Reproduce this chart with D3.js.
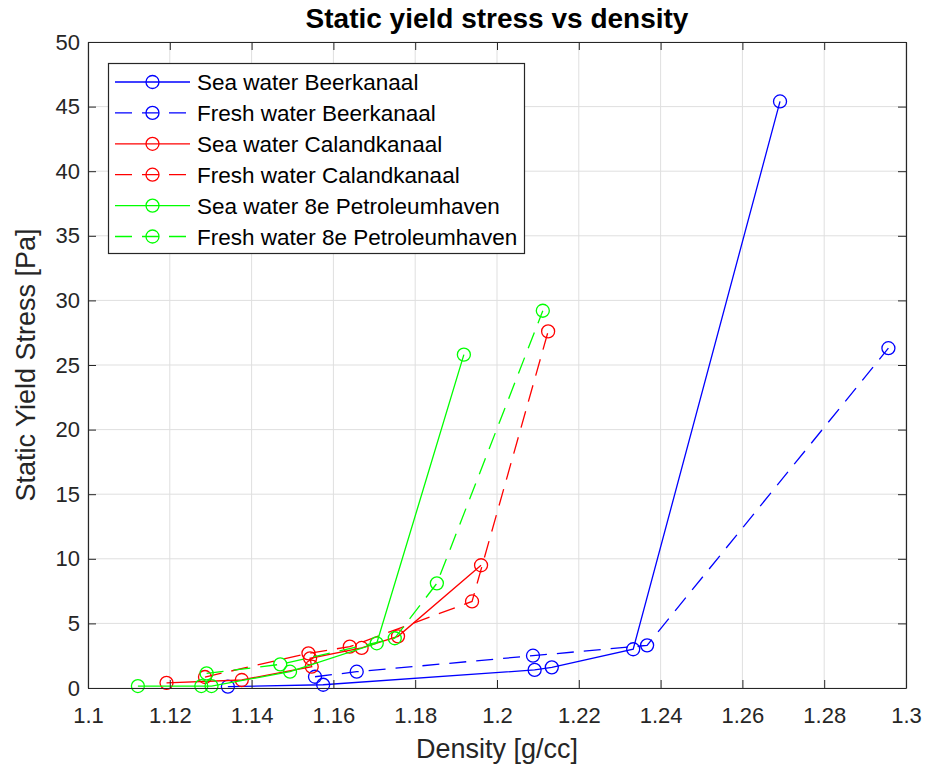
<!DOCTYPE html>
<html>
<head>
<meta charset="utf-8">
<script src="https://cdn.jsdelivr.net/npm/d3@7"></script>
<style>
  body { margin: 0; background: #ffffff; }
  text { font-family: "Liberation Sans", Arial, Helvetica, sans-serif; }
</style>
</head>
<body>
<svg id="chart" width="926" height="773"></svg>
<script>
// ---- data ----
const xTicks = [1.1, 1.12, 1.14, 1.16, 1.18, 1.2, 1.22, 1.24, 1.26, 1.28, 1.3];
const yTicks = [0, 5, 10, 15, 20, 25, 30, 35, 40, 45, 50];

const seriesNames = [
  "Sea water Beerkanaal",
  "Fresh water Beerkanaal",
  "Sea water Calandkanaal",
  "Fresh water Calandkanaal",
  "Sea water 8e Petroleumhaven",
  "Fresh water 8e Petroleumhaven"
];

const seaBeerDensity   = [1.1342, 1.1575, 1.2092, 1.2134, 1.2333, 1.2692];
const seaBeerStress    = [0.10, 0.25, 1.40, 1.60, 3.00, 45.4];

const freshBeerDensity = [1.1555, 1.1657, 1.2088, 1.2367, 1.2957];
const freshBeerStress  = [0.87, 1.26, 2.50, 3.30, 26.3];

const seaCalDensity    = [1.1192, 1.1376, 1.1547, 1.1543, 1.1669, 1.1758, 1.1961];
const seaCalStress     = [0.40, 0.62, 1.65, 2.30, 3.10, 4.00, 9.50];

const freshCalDensity  = [1.1286, 1.1539, 1.1640, 1.1939, 1.2125];
const freshCalStress   = [0.85, 2.68, 3.20, 6.70, 27.6];

const seaPetDensity    = [1.1122, 1.1277, 1.1302, 1.1494, 1.1706, 1.1919];
const seaPetStress     = [0.15, 0.15, 0.15, 1.26, 3.46, 25.8];

const freshPetDensity  = [1.1290, 1.1470, 1.1750, 1.1853, 1.2112];
const freshPetStress   = [1.13, 1.83, 3.85, 8.10, 29.2];

// ---- styling per series ----
const seriesStyle = [
  { color: "#0000ff", dash: null },
  { color: "#0000ff", dash: "17,10" },
  { color: "#ff0000", dash: null },
  { color: "#ff0000", dash: "17,10" },
  { color: "#00ff00", dash: null },
  { color: "#00ff00", dash: "17,10" }
];

const densities = [seaBeerDensity, freshBeerDensity, seaCalDensity, freshCalDensity, seaPetDensity, freshPetDensity];
const stresses  = [seaBeerStress, freshBeerStress, seaCalStress, freshCalStress, seaPetStress, freshPetStress];

const series = seriesNames.map((name, i) => ({
  name,
  style: seriesStyle[i],
  points: densities[i].map((d, j) => ({ x: d, y: stresses[i][j] }))
}));

// ---- layout ----
const svg = d3.select("#chart");
const plotL = 88, plotR = 906, plotT = 42, plotB = 688;
const axisColor = "#262626";

const x = d3.scaleLinear().domain([1.1, 1.3]).range([plotL, plotR]);
const y = d3.scaleLinear().domain([0, 50]).range([plotB, plotT]);

svg.append("rect").attr("x", 0).attr("y", 0).attr("width", 926).attr("height", 773).attr("fill", "#ffffff");

// grid
const grid = svg.append("g").attr("stroke", "#dfdfdf").attr("stroke-width", 1);
grid.selectAll("line.gx").data(xTicks).join("line").attr("class", "gx")
  .attr("x1", d => x(d)).attr("x2", d => x(d))
  .attr("y1", plotT).attr("y2", plotB);
grid.selectAll("line.gy").data(yTicks).join("line").attr("class", "gy")
  .attr("x1", plotL).attr("x2", plotR)
  .attr("y1", d => y(d)).attr("y2", d => y(d));

// data lines and markers
const line = d3.line().x(d => x(d.x)).y(d => y(d.y));
const plot = svg.append("g");
series.forEach(s => {
  const g = plot.append("g");
  g.append("path")
    .attr("d", line(s.points))
    .attr("fill", "none")
    .attr("stroke", s.style.color)
    .attr("stroke-width", 1.3)
    .attr("stroke-dasharray", s.style.dash);
  g.selectAll("circle").data(s.points).join("circle")
    .attr("cx", d => x(d.x)).attr("cy", d => y(d.y))
    .attr("r", 6.5)
    .attr("fill", "none")
    .attr("stroke", s.style.color)
    .attr("stroke-width", 1.3);
});

// axes (ticks point inward, box on all four sides)
const fmt = d => String(+d.toFixed(2));
const tickLen = 8;
function styleAxis(g) {
  g.selectAll("path.domain").attr("stroke", axisColor).attr("stroke-width", 1.2);
  g.selectAll(".tick line").attr("stroke", axisColor).attr("stroke-width", 1);
  g.selectAll(".tick text").attr("fill", axisColor).attr("font-size", 22)
    .attr("font-family", "'Liberation Sans', Arial, Helvetica, sans-serif");
}
svg.append("g").attr("transform", `translate(0,${plotB})`)
  .call(d3.axisBottom(x).tickValues(xTicks).tickFormat(fmt).tickSizeInner(-tickLen).tickSizeOuter(0).tickPadding(19))
  .call(styleAxis);
svg.append("g").attr("transform", `translate(0,${plotT})`)
  .call(d3.axisTop(x).tickValues(xTicks).tickFormat("").tickSizeInner(-tickLen).tickSizeOuter(0))
  .call(styleAxis);
svg.append("g").attr("transform", `translate(${plotL},0)`)
  .call(d3.axisLeft(y).tickValues(yTicks).tickFormat(fmt).tickSizeInner(-tickLen).tickSizeOuter(0).tickPadding(8))
  .call(styleAxis);
svg.append("g").attr("transform", `translate(${plotR},0)`)
  .call(d3.axisRight(y).tickValues(yTicks).tickFormat("").tickSizeInner(-tickLen).tickSizeOuter(0))
  .call(styleAxis);

// title and axis labels
svg.append("text")
  .attr("x", (plotL + plotR) / 2).attr("y", 28)
  .attr("text-anchor", "middle").attr("font-size", 28).attr("font-weight", "bold")
  .attr("fill", "#000").text("Static yield stress vs density");
svg.append("text")
  .attr("x", (plotL + plotR) / 2).attr("y", 758)
  .attr("text-anchor", "middle").attr("font-size", 27)
  .attr("fill", axisColor).text("Density [g/cc]");
svg.append("text")
  .attr("transform", `translate(35,${(plotT + plotB) / 2}) rotate(-90)`)
  .attr("text-anchor", "middle").attr("font-size", 27)
  .attr("fill", axisColor).text("Static Yield Stress [Pa]");

// legend
const lg = svg.append("g");
lg.append("rect")
  .attr("x", 108.5).attr("y", 63.5).attr("width", 416).attr("height", 190)
  .attr("fill", "#ffffff").attr("stroke", axisColor).attr("stroke-width", 1.2);
const rowY = i => 82 + i * 30.9;
series.forEach((s, i) => {
  const yy = rowY(i);
  lg.append("line")
    .attr("x1", 115).attr("x2", 190).attr("y1", yy).attr("y2", yy)
    .attr("stroke", s.style.color).attr("stroke-width", 1.3)
    .attr("stroke-dasharray", s.style.dash);
  lg.append("circle")
    .attr("cx", 152.5).attr("cy", yy).attr("r", 6.5)
    .attr("fill", "none").attr("stroke", s.style.color).attr("stroke-width", 1.3);
  lg.append("text")
    .attr("x", 197).attr("y", yy).attr("dy", "0.36em")
    .attr("font-size", 22.5).attr("fill", "#000").text(s.name);
});
</script>
</body>
</html>
